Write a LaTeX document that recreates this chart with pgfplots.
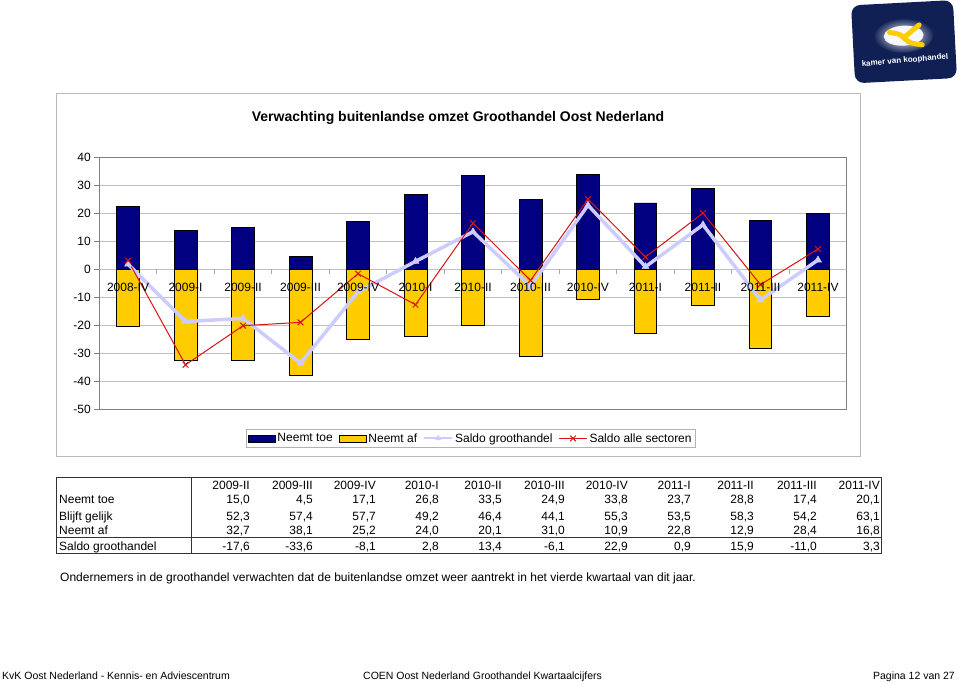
\documentclass[border=0pt]{standalone}
\usepackage{fontspec}
\setmainfont{Liberation Sans}
\usepackage{pgfplots}
\pgfplotsset{compat=1.18}
\definecolor{navyb}{RGB}{0,0,128}
\definecolor{yel}{RGB}{255,204,0}
\definecolor{lav}{RGB}{204,204,255}
\definecolor{redl}{RGB}{215,20,20}
\definecolor{gridc}{RGB}{192,192,192}
\definecolor{logob}{RGB}{16,32,84}
\newcommand{\fs}[1]{\fontsize{#1}{#1}\selectfont}
\pgfplotsset{
  chartbox/.style={at={(99.3pt,274pt)}, anchor=south west,
    width=747.4pt, height=251.6pt, scale only axis,
    xmin=-0.5, xmax=12.5, ymin=-50, ymax=40},
  barleg/.style={legend image code/.code={\draw[fill=#1,draw=black,line width=0.6pt] (0pt,-3.5pt) rectangle (27pt,3.5pt);}},
  lavleg/.style={legend image code/.code={\draw[##1, line width=2pt, mark size=3pt, mark repeat=2, mark phase=2] plot coordinates {(0pt,0pt) (14pt,0pt) (28pt,0pt)};}},
  redleg/.style={legend image code/.code={\draw[##1, mark repeat=2, mark phase=2] plot coordinates {(0pt,0pt) (14pt,0pt) (28pt,0pt)};}},
}
\begin{document}
\begin{tikzpicture}[x=1pt,y=1pt]
\fill[white] (0,0) rectangle (960,683);
% chart outer box
\draw[gray!55, line width=0.8pt] (56.7,589.7) rectangle (860.7,227);
\node[font=\fs{14}\bfseries] at (458,565) {Verwachting buitenlandse omzet Groothandel Oost Nederland};
\begin{axis}[
  chartbox,
  xtick=\empty,
  ytick={-50,-40,...,40},
  ytick align=outside, major tick length=5pt,
  tick pos=left,
  y tick style={gray, line width=0.8pt},
  ticklabel style={font=\fs{12}},
  /pgf/number format/assume math mode=true,
  ymajorgrids, grid style={gridc, line width=0.8pt},
  axis line style={gray, line width=0.8pt},
  legend style={at={(0.497,-0.117)}, anchor=center, draw=gray!60, font=\fs{12},
    legend columns=4, inner sep=2pt, row sep=0pt,
    /tikz/every even column/.append style={column sep=4pt}},
]
\draw[gridc, line width=0.8pt] (axis cs:-0.5,0) -- (axis cs:12.5,0);
\foreach \k in {0,...,11}{
  \edef\temp{\noexpand\draw[gray!70, line width=0.6pt] (axis cs:\k+0.5,0) -- ++(0pt,-5pt);}
  \temp
}
\addplot[ybar, bar width=22.7pt, bar shift=0pt, fill=navyb, draw=black, line width=0.7pt, barleg=navyb]
  coordinates {(0,22.4) (1,13.8) (2,15.0) (3,4.5) (4,17.1) (5,26.8) (6,33.5) (7,24.9) (8,33.8) (9,23.7) (10,28.8) (11,17.4) (12,20.1)};
\addlegendentry{Neemt toe}
\addplot[ybar, bar width=22.7pt, bar shift=0pt, fill=yel, draw=black, line width=0.7pt, barleg=yel]
  coordinates {(0,-20.6) (1,-32.5) (2,-32.7) (3,-38.1) (4,-25.2) (5,-24.0) (6,-20.1) (7,-31.0) (8,-10.9) (9,-22.8) (10,-12.9) (11,-28.4) (12,-16.8)};
\addlegendentry{Neemt af}
\addplot[lav, line width=3.5pt, mark=triangle*, mark size=4pt, mark options={solid, line width=0.5pt, fill=lav}, lavleg]
  coordinates {(0,1.8) (1,-18.7) (2,-17.6) (3,-33.6) (4,-8.1) (5,2.8) (6,13.4) (7,-6.1) (8,22.9) (9,0.9) (10,15.9) (11,-11.0) (12,3.3)};
\addlegendentry{Saldo groothandel}
\addplot[redl, line width=1pt, mark=x, mark size=4pt, mark options={solid, line width=1pt}, redleg]
  coordinates {(0,3.1) (1,-34.2) (2,-20.2) (3,-19.0) (4,-1.6) (5,-12.7) (6,16.5) (7,-4.0) (8,25.1) (9,4.4) (10,20.1) (11,-5.5) (12,7.2)};
\addlegendentry{Saldo alle sectoren}
\end{axis}
% overlay axis carrying the category labels on top of the bars
\begin{axis}[
  chartbox,
  axis line style={draw=none},
  ytick=\empty,
  xtick={0,...,12},
  xticklabels={2008-IV,2009-I,2009-II,2009-III,2009-IV,2010-I,2010-II,2010-III,2010-IV,2011-I,2011-II,2011-III,2011-IV},
  xticklabel style={anchor=center, yshift=122pt, font=\fs{12}},
  x tick style={draw=none},
  tick pos=left,
]
\end{axis}
% table
\draw[black!80, line width=0.9pt] (56.7,205.7) rectangle (881,130);
\draw[black!80, line width=0.9pt] (191.7,205.7) -- (191.7,130);
\draw[black!80, line width=0.9pt] (56.7,145.3) -- (881,145.3);
\begin{scope}[every node/.style={font=\fs{12}, inner sep=0pt}]
\node[anchor=base west] at (59,179.7) {Neemt toe};
\node[anchor=base west] at (59,163) {Blijft gelijk};
\node[anchor=base west] at (59,149) {Neemt af};
\node[anchor=base west] at (59,133) {Saldo groothandel};
\foreach \t [count=\i from 0] in {2009-II,2009-III,2009-IV,2010-I,2010-II,2010-III,2010-IV,2011-I,2011-II,2011-III,2011-IV}
  \node[anchor=base east] at (250+63*\i,194) {\t};
\foreach \t [count=\i from 0] in {15{,}0,4{,}5,17{,}1,26{,}8,33{,}5,24{,}9,33{,}8,23{,}7,28{,}8,17{,}4,20{,}1}
  \node[anchor=base east] at (250+63*\i,179.7) {\t};
\foreach \t [count=\i from 0] in {52{,}3,57{,}4,57{,}7,49{,}2,46{,}4,44{,}1,55{,}3,53{,}5,58{,}3,54{,}2,63{,}1}
  \node[anchor=base east] at (250+63*\i,163) {\t};
\foreach \t [count=\i from 0] in {32{,}7,38{,}1,25{,}2,24{,}0,20{,}1,31{,}0,10{,}9,22{,}8,12{,}9,28{,}4,16{,}8}
  \node[anchor=base east] at (250+63*\i,149) {\t};
\foreach \t [count=\i from 0] in {-17{,}6,-33{,}6,-8{,}1,2{,}8,13{,}4,-6{,}1,22{,}9,0{,}9,15{,}9,-11{,}0,3{,}3}
  \node[anchor=base east] at (250+63*\i,133) {\t};
\node[anchor=base west] at (60,101.5) {Ondernemers in de groothandel verwachten dat de buitenlandse omzet weer aantrekt in het vierde kwartaal van dit jaar.};
\node[anchor=base west, font=\fs{10.5}] at (2,4) {KvK Oost Nederland - Kennis- en Adviescentrum};
\node[anchor=base west, font=\fs{10.5}] at (363,4) {COEN Oost Nederland Groothandel Kwartaalcijfers};
\node[anchor=base east, font=\fs{10.5}] at (955,4) {Pagina 12 van 27};
\end{scope}
% logo
\begin{scope}[shift={(904,641.3)}, rotate=3]
\fill[logob, rounded corners=9pt] (-51,-39) rectangle (51,39);
\shade[inner color=white, outer color=logob] (0,6) ellipse (30pt and 17pt);
\fill[white!85!lav] (0,6) ellipse (20pt and 10pt);
\draw[yel, line width=5pt, line cap=round] (-14,10) .. controls (-4,8) .. (0,4);
\draw[yel, line width=5pt, line cap=round] (0,4) .. controls (8,10) .. (16,16);
\draw[yel, line width=5pt, line cap=round] (0,4) .. controls (6,-2) .. (18,-4);
\node[white, font=\fs{8}\bfseries, rotate=5] at (0,-19) {kamer van koophandel};
\end{scope}
\end{tikzpicture}
\end{document}
